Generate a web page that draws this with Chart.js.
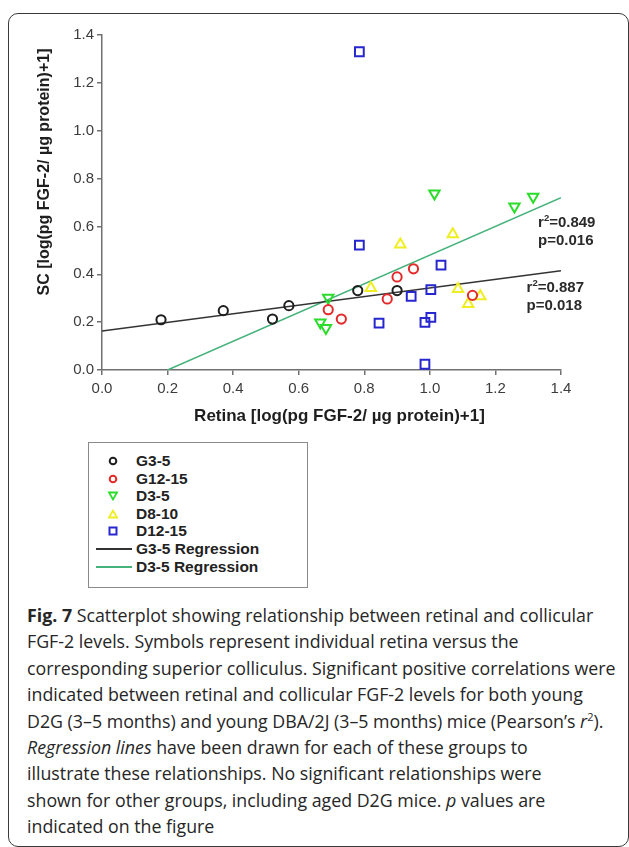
<!DOCTYPE html>
<html>
<head>
<meta charset="utf-8">
<script src="https://cdn.jsdelivr.net/npm/chart.js@4/dist/chart.umd.min.js"></script>
<style>
html,body{margin:0;padding:0;background:#fff;}
body{width:629px;height:847px;position:relative;overflow:hidden;font-family:"Liberation Sans",Arial,sans-serif;}
#frame{position:absolute;left:8px;top:13px;width:621px;height:834px;border:1.5px solid #3a3a3a;border-radius:10px;box-sizing:border-box;}
#wrap{position:absolute;left:0;top:0;width:629px;height:440px;}
#legend{position:absolute;left:88px;top:442px;width:220px;height:146px;border:1.5px solid #8a8a8a;box-sizing:border-box;padding-top:9px;}
.row{position:relative;height:17.6px;line-height:17.6px;font-weight:bold;font-size:15.5px;color:#222;}
.row svg{position:absolute;top:1px;}
.row span{position:absolute;left:47px;top:0;white-space:nowrap;}
#caption{position:absolute;left:27px;top:602px;font-family:"Open Sans",sans-serif;font-size:17.8px;line-height:26.4px;color:#262626;white-space:nowrap;}
#caption b{font-weight:700;}
</style>
</head>
<body>
<div id="frame"></div>
<div id="wrap"><canvas id="c" width="629" height="440" style="width:629px;height:440px"></canvas></div>
<div id="legend"></div>
<div id="caption"><b>Fig. 7</b> Scatterplot showing relationship between retinal and collicular<br>FGF-2 levels. Symbols represent individual retina versus the<br>corresponding superior colliculus. Significant positive correlations were<br>indicated between retinal and collicular FGF-2 levels for both young<br>D2G (3–5 months) and young DBA/2J (3–5 months) mice (Pearson’s <i>r</i><sup style="font-size:11px;line-height:0">2</sup>).<br><i>Regression lines</i> have been drawn for each of these groups to<br>illustrate these relationships. No significant relationships were<br>shown for other groups, including aged D2G mice. <i>p</i> values are<br>indicated on the figure</div>
<script>
// ---- data ----
const tickValues = [0.0, 0.2, 0.4, 0.6, 0.8, 1.0, 1.2, 1.4];

const g35X = [0.18, 0.37, 0.52, 0.57, 0.78, 0.90];
const g35Y = [0.21, 0.248, 0.213, 0.269, 0.332, 0.332];

const g1215X = [0.69, 0.73, 0.87, 0.90, 0.95, 1.13];
const g1215Y = [0.252, 0.213, 0.297, 0.389, 0.423, 0.312];

const d35X = [0.666, 0.683, 0.69, 1.014, 1.258, 1.315];
const d35Y = [0.198, 0.176, 0.302, 0.738, 0.683, 0.724];

const d810X = [0.82, 0.91, 1.07, 1.086, 1.117, 1.154];
const d810Y = [0.343, 0.525, 0.567, 0.339, 0.276, 0.308];

const d1215X = [0.785, 0.785, 0.845, 0.943, 0.985, 0.985, 1.003, 1.003, 1.034];
const d1215Y = [1.33, 0.522, 0.196, 0.308, 0.199, 0.024, 0.336, 0.22, 0.438];

const g35RegX = [0.0, 1.4];
const g35RegY = [0.163, 0.415];
const d35RegX = [0.2, 1.4];
const d35RegY = [0.0, 0.72];

const statR2 = ['0.849', '0.887'];
const statP = ['0.016', '0.018'];

const xTitle = 'Retina [log(pg FGF-2/ µg protein)+1]';
const yTitle = 'SC [log(pg FGF-2/ µg protein)+1]';

// ---- build ----
const pts = (xs, ys) => xs.map((x, i) => ({x, y: ys[i]}));
const series = [
  {label:'G3-5', data:pts(g35X,g35Y), color:'#1e1e1e', style:'circle', r:4.6, rot:0},
  {label:'G12-15', data:pts(g1215X,g1215Y), color:'#e32b2b', style:'circle', r:4.6, rot:0},
  {label:'D3-5', data:pts(d35X,d35Y), color:'#2bdc2b', style:'triangle', r:6, rot:180},
  {label:'D8-10', data:pts(d810X,d810Y), color:'#eeee22', style:'triangle', r:6, rot:0},
  {label:'D12-15', data:pts(d1215X,d1215Y), color:'#2727d0', style:'rect', r:6.2, rot:0}
];
const lines = [
  {label:'G3-5 Regression', data:pts(g35RegX,g35RegY), color:'#333333'},
  {label:'D3-5 Regression', data:pts(d35RegX,d35RegY), color:'#45b27a'}
];

const datasets = [];
lines.forEach(l => datasets.push({type:'line', label:l.label, data:l.data, borderColor:l.color, borderWidth:1.5, pointRadius:0, fill:false, showLine:true, order:2}));
series.forEach(s => datasets.push({type:'scatter', label:s.label, data:s.data, borderColor:s.color, backgroundColor:'rgba(0,0,0,0)', pointStyle:s.style, pointRadius:s.r, pointRotation:s.rot, pointBorderWidth:2, order:1}));

const FONT = '"Liberation Sans", Arial, sans-serif';
const textPlugin = {
  id:'texts',
  afterDatasetsDraw(chart){
    const {ctx, chartArea:a, scales:{x, y}} = chart;
    ctx.save();
    // statistics
    const placements = [{ax:1.33, r2y:0.616, py:0.539}, {ax:1.295, r2y:0.343, py:0.266}];
    ctx.fillStyle = '#2a2a2a';
    ctx.textBaseline = 'middle';
    ctx.textAlign = 'left';
    placements.forEach((p, i) => {
      const px = x.getPixelForValue(p.ax);
      const py = y.getPixelForValue(p.r2y);
      ctx.font = 'bold 15px ' + FONT;
      ctx.fillText('r', px, py);
      const w = ctx.measureText('r').width;
      ctx.font = 'bold 9.5px ' + FONT;
      ctx.fillText('2', px + w, py - 4.5);
      const w2 = ctx.measureText('2').width;
      ctx.font = 'bold 15px ' + FONT;
      ctx.fillText('=' + statR2[i], px + w + w2, py);
      ctx.fillText('p=' + statP[i], px, y.getPixelForValue(p.py));
    });
    // axis titles
    ctx.fillStyle = '#1e1e1e';
    ctx.textAlign = 'center';
    ctx.font = 'bold 17px ' + FONT;
    ctx.fillText(xTitle, (a.left + a.right) / 2 + 8, a.bottom + 46);
    ctx.translate(a.left - 57, a.top + 137);
    ctx.rotate(-Math.PI / 2);
    ctx.font = 'bold 16px ' + FONT;
    ctx.fillText(yTitle, 0, 0);
    ctx.restore();
  }
};

const tickFont = {family:FONT, size:15};
const axisCommon = {
  type:'linear', min:0, max:1.4,
  afterBuildTicks: s => { s.ticks = tickValues.map(v => ({value:v})); },
  grid:{drawOnChartArea:false, drawTicks:true, tickLength:5, color:'#707070', lineWidth:1.5},
  border:{display:true, color:'#707070', width:1.5}
};

new Chart(document.getElementById('c'), {
  type:'scatter',
  data:{datasets},
  options:{
    responsive:false, animation:false, devicePixelRatio:1,
    layout:{padding:{top:35, right:68, left:0, bottom:0}},
    plugins:{legend:{display:false}, tooltip:{enabled:false}},
    scales:{
      x:Object.assign({}, axisCommon, {
        position:'bottom',
        ticks:{callback:v => v.toFixed(1), font:tickFont, color:'#3c3c3c', padding:5, maxRotation:0, autoSkip:false},
        afterFit: s => { s.height = 70; }
      }),
      y:Object.assign({}, axisCommon, {
        position:'left',
        ticks:{callback:v => v.toFixed(1), font:tickFont, color:'#3c3c3c', padding:3, autoSkip:false},
        afterFit: s => { s.width = 102; }
      })
    }
  },
  plugins:[textPlugin]
});

// ---- HTML legend built from the series ----
const leg = document.getElementById('legend');
function markerSvg(s){
  const c = s.color;
  let shape = '';
  if (s.style === 'circle') shape = `<circle cx="24" cy="8" r="3.3" fill="none" stroke="${c}" stroke-width="2"/>`;
  else if (s.style === 'rect') shape = `<rect x="20.5" y="4.5" width="7" height="7" fill="none" stroke="${c}" stroke-width="2"/>`;
  else if (s.rot === 180) shape = `<polygon points="20,4.5 28,4.5 24,11.5" fill="none" stroke="${c}" stroke-width="1.8"/>`;
  else shape = `<polygon points="20,11.5 28,11.5 24,4.5" fill="none" stroke="${c}" stroke-width="1.8"/>`;
  return `<svg width="40" height="16" style="left:0">${shape}</svg>`;
}
series.forEach(s => {
  const d = document.createElement('div'); d.className = 'row';
  d.innerHTML = markerSvg(s) + `<span>${s.label}</span>`;
  leg.appendChild(d);
});
lines.forEach(l => {
  const d = document.createElement('div'); d.className = 'row';
  d.innerHTML = `<svg width="44" height="16" style="left:0"><line x1="7" y1="8" x2="43" y2="8" stroke="${l.color}" stroke-width="2"/></svg><span>${l.label}</span>`;
  leg.appendChild(d);
});
</script>
</body>
</html>
